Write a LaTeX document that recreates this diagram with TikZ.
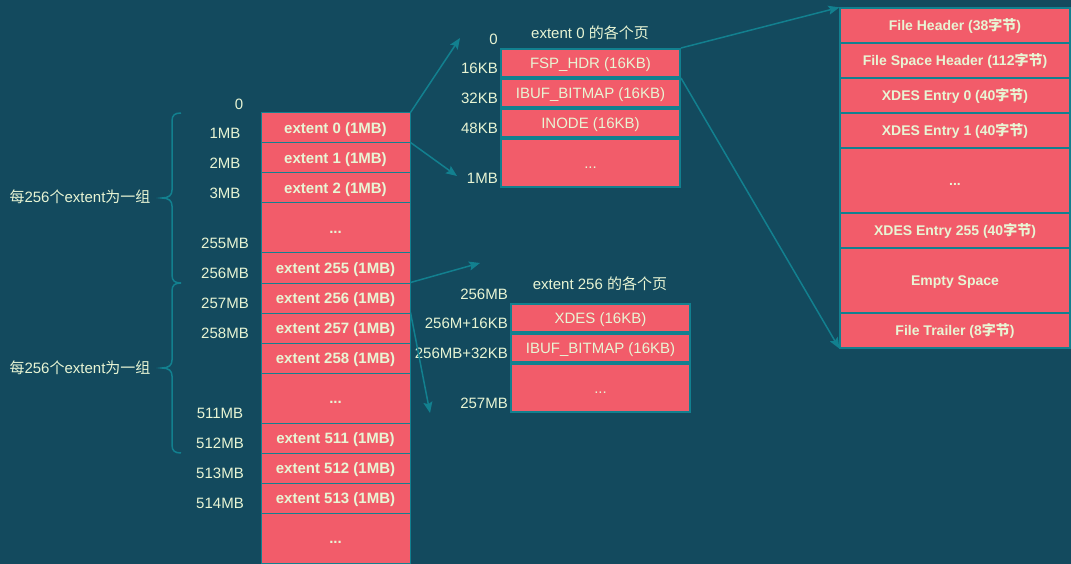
\documentclass[tikz,border=0pt]{standalone}
\usepackage{fontspec}
\setmainfont{Liberation Sans}
\newfontfamily\cjk{Noto Sans CJK SC}
\usetikzlibrary{arrows.meta}
\definecolor{bgc}{HTML}{134A5E}
\definecolor{cellfill}{HTML}{F25C6A}
\definecolor{txtc}{HTML}{E8F5D4}
\definecolor{lineteal}{HTML}{12808F}
\begin{document}
\begin{tikzpicture}[x=1pt,y=-1pt,
  base/.style={inner sep=0pt, text height=10.7pt, text depth=0pt, text=txtc, font=\fontsize{15}{18}\selectfont},
  lcell/.style={base, draw=lineteal, fill=cellfill, line width=1pt, minimum width=149pt, minimum height=30pt, font=\fontsize{15}{18}\selectfont\bfseries},
  mcell/.style={base, draw=lineteal, fill=cellfill, line width=2pt, minimum width=179pt, minimum height=28pt},
  rcell/.style={base, text height=10pt, draw=lineteal, fill=cellfill, line width=1.2pt, minimum width=230pt, minimum height=35pt, font=\fontsize{14}{17}\selectfont\bfseries},
  lab/.style={base},
  conn/.style={draw=lineteal, line width=1.5pt, -{Stealth[length=11pt,width=9pt,inset=2pt]}},
  bracestyle/.style={draw=lineteal, line width=1.5pt}
]
\fill[bgc] (0,0) rectangle (1071,564);
\useasboundingbox (0,0) rectangle (1071,564);

% left column
\node[lcell] (e0) at (335.5,128) {extent 0 (1MB)};
\node[lcell] (e1) at (335.5,158) {extent 1 (1MB)};
\node[lcell] (e2) at (335.5,188) {extent 2 (1MB)};
\node[lcell, minimum height=50pt] (ed1) at (335.5,228) {...};
\node[lcell] (e255) at (335.5,268) {extent 255 (1MB)};
\node[lcell] (e256) at (335.5,298) {extent 256 (1MB)};
\node[lcell] (e257) at (335.5,328) {extent 257 (1MB)};
\node[lcell] (e258) at (335.5,358) {extent 258 (1MB)};
\node[lcell, minimum height=50pt] (ed2) at (335.5,398) {...};
\node[lcell] (e511) at (335.5,438) {extent 511 (1MB)};
\node[lcell] (e512) at (335.5,468) {extent 512 (1MB)};
\node[lcell] (e513) at (335.5,498) {extent 513 (1MB)};
\node[lcell, minimum height=50pt] (ed3) at (335.5,538) {...};

% left labels
\node[lab] (l0) at (239,104) {0};
\node[lab] (l1) at (225,133.5) {1MB};
\node[lab] (l2) at (225,163.5) {2MB};
\node[lab] (l3) at (225,193.5) {3MB};
\node[lab] (l255) at (225,243.5) {255MB};
\node[lab] (l256) at (225,273.5) {256MB};
\node[lab] (l257) at (225,303.5) {257MB};
\node[lab] (l258) at (225,333.5) {258MB};
\node[lab] (l511) at (220,413.5) {511MB};
\node[lab] (l512) at (220,443.5) {512MB};
\node[lab] (l513) at (220,473.5) {513MB};
\node[lab] (l514) at (220,503.5) {514MB};

% braces
\draw[bracestyle] (181,113) .. controls (175,113) and (172,115) .. (172,121) -- (172,190)
  .. controls (172,195) and (169,198) .. (162,198) .. controls (169,198) and (172,201) .. (172,206)
  -- (172,275) .. controls (172,281) and (175,283) .. (181,283);
\draw[bracestyle] (181,283) .. controls (175,283) and (172,285) .. (172,291) -- (172,360)
  .. controls (172,365) and (169,368) .. (162,368) .. controls (169,368) and (172,371) .. (172,376)
  -- (172,445) .. controls (172,451) and (175,453) .. (181,453);
\node[lab, text height=12pt, text depth=2pt] (g1) at (80,198) {{\cjk 每}256{\cjk 个}extent{\cjk 为一组}};
\node[lab, text height=12pt, text depth=2pt] (g2) at (80,368) {{\cjk 每}256{\cjk 个}extent{\cjk 为一组}};

% middle top
\node[lab, text height=12pt, text depth=2pt] (t1) at (590,34) {extent 0 {\cjk 的各个页}};
\node[mcell] (p0) at (590.5,63) {FSP\_HDR (16KB)};
\node[mcell] (p1) at (590.5,93) {IBUF\_BITMAP (16KB)};
\node[mcell] (p2) at (590.5,123) {INODE (16KB)};
\node[mcell, minimum height=48pt] (pd) at (590.5,163) {...};
\node[lab, anchor=east] (m0) at (498,39) {0};
\node[lab, anchor=east] (m1) at (498,68.5) {16KB};
\node[lab, anchor=east] (m2) at (498,98.5) {32KB};
\node[lab, anchor=east] (m3) at (498,128.5) {48KB};
\node[lab, anchor=east] (m4) at (498,178.5) {1MB};

% middle bottom
\node[lab, text height=12pt, text depth=2pt] (t2) at (600,284) {extent 256 {\cjk 的各个页}};
\node[mcell] (q0) at (600.5,318) {XDES (16KB)};
\node[mcell] (q1) at (600.5,348) {IBUF\_BITMAP (16KB)};
\node[mcell, minimum height=48pt] (qd) at (600.5,388) {...};
\node[lab, anchor=east] (n0) at (508,294) {256MB};
\node[lab, anchor=east] (n1) at (508,323.5) {256M+16KB};
\node[lab, anchor=east] (n2) at (508,353.5) {256MB+32KB};
\node[lab, anchor=east] (n3) at (508,403.5) {257MB};

% right column
\node[rcell] (r0) at (955,25.5) {File Header (38{\cjk 字节})};
\node[rcell] (r1) at (955,60.5) {File Space Header (112{\cjk 字节})};
\node[rcell] (r2) at (955,95.5) {XDES Entry 0 (40{\cjk 字节})};
\node[rcell] (r3) at (955,130.5) {XDES Entry 1 (40{\cjk 字节})};
\node[rcell, minimum height=65pt] (rd) at (955,180.5) {...};
\node[rcell] (r4) at (955,230.5) {XDES Entry 255 (40{\cjk 字节})};
\node[rcell, minimum height=65pt] (r5) at (955,280.5) {Empty Space};
\node[rcell] (r6) at (955,330.5) {File Trailer (8{\cjk 字节})};

% connectors
\coordinate (a1) at (460,38);
\coordinate (a2) at (457,176);
\coordinate (a3) at (480,263);
\coordinate (a4) at (430,413);
\draw[conn] (e0.north east) -- (a1);
\draw[conn] (e1.north east) -- (a2);
\draw[conn] (e256.north east) -- (a3);
\draw[conn] (e257.north east) -- (a4);
\draw[conn] (p0.north east) -- (r0.north west);
\draw[conn] (p0.south east) -- (r6.south west);
\end{tikzpicture}
\end{document}
